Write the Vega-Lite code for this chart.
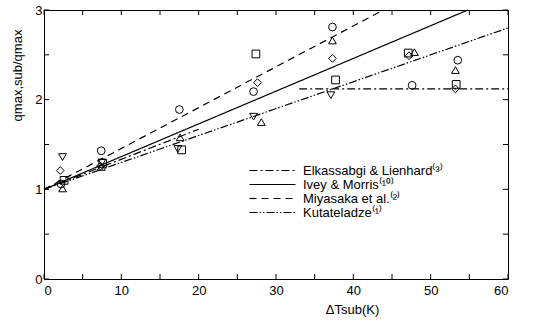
{
  "$schema": "https://vega.github.io/schema/vega-lite/v6.json",
  "width": 464,
  "height": 269,
  "autosize": {"type": "none"},
  "padding": {"left": 44, "top": 10, "right": 43, "bottom": 44},
  "background": "white",
  "config": {
    "view": {"stroke": "black", "strokeWidth": 1},
    "font": "Liberation Sans",
    "axis": {
      "grid": false,
      "domain": false,
      "ticks": true,
      "tickSize": 0,
      "tickColor": "black",
      "labelColor": "black",
      "titleColor": "black",
      "labelFontSize": 13,
      "titleFontSize": 13,
      "titleFontWeight": "normal"
    }
  },
  "datasets": {
    "lines": [
      {"name": "Elkassabgi & Lienhard⁽³⁾", "seg": "a", "dT": 0, "ratio": 1.0},
      {"name": "Elkassabgi & Lienhard⁽³⁾", "seg": "a", "dT": 20, "ratio": 1.67},
      {"name": "Elkassabgi & Lienhard⁽³⁾", "seg": "b", "dT": 33, "ratio": 2.12},
      {"name": "Elkassabgi & Lienhard⁽³⁾", "seg": "b", "dT": 60, "ratio": 2.12},
      {"name": "Ivey & Morris⁽¹⁰⁾", "seg": "a", "dT": 0, "ratio": 1.0},
      {"name": "Ivey & Morris⁽¹⁰⁾", "seg": "a", "dT": 54.8, "ratio": 3.0},
      {"name": "Miyasaka et al.⁽²⁾", "seg": "a", "dT": 0, "ratio": 1.0},
      {"name": "Miyasaka et al.⁽²⁾", "seg": "a", "dT": 43.9, "ratio": 3.0},
      {"name": "Kutateladze⁽¹⁾", "seg": "a", "dT": 0, "ratio": 1.0},
      {"name": "Kutateladze⁽¹⁾", "seg": "a", "dT": 60, "ratio": 2.8}
    ],
    "points": [
      {"set": "circle", "dT": 2.2, "ratio": 1.06},
      {"set": "circle", "dT": 7.4, "ratio": 1.43},
      {"set": "circle", "dT": 17.5, "ratio": 1.89},
      {"set": "circle", "dT": 27.1, "ratio": 2.09},
      {"set": "circle", "dT": 37.3, "ratio": 2.81},
      {"set": "circle", "dT": 47.6, "ratio": 2.16},
      {"set": "circle", "dT": 53.5, "ratio": 2.44},
      {"set": "up", "dT": 2.4, "ratio": 1.01},
      {"set": "up", "dT": 7.4, "ratio": 1.25},
      {"set": "up", "dT": 17.6, "ratio": 1.58},
      {"set": "up", "dT": 28.1, "ratio": 1.75},
      {"set": "up", "dT": 37.3, "ratio": 2.66},
      {"set": "up", "dT": 47.9, "ratio": 2.53},
      {"set": "up", "dT": 53.2, "ratio": 2.33},
      {"set": "square", "dT": 2.6, "ratio": 1.1},
      {"set": "square", "dT": 7.6, "ratio": 1.29},
      {"set": "square", "dT": 17.8, "ratio": 1.44},
      {"set": "square", "dT": 27.4, "ratio": 2.51},
      {"set": "square", "dT": 37.7, "ratio": 2.22},
      {"set": "square", "dT": 47.1, "ratio": 2.52},
      {"set": "square", "dT": 53.3, "ratio": 2.17},
      {"set": "diamond", "dT": 2.1, "ratio": 1.21},
      {"set": "diamond", "dT": 7.3, "ratio": 1.26},
      {"set": "diamond", "dT": 27.6, "ratio": 2.19},
      {"set": "diamond", "dT": 37.3, "ratio": 2.46},
      {"set": "diamond", "dT": 47.2, "ratio": 2.49},
      {"set": "diamond", "dT": 53.2, "ratio": 2.12},
      {"set": "down", "dT": 2.4, "ratio": 1.36},
      {"set": "down", "dT": 7.5, "ratio": 1.3},
      {"set": "down", "dT": 17.3, "ratio": 1.45},
      {"set": "down", "dT": 27.1, "ratio": 1.81},
      {"set": "down", "dT": 37.1, "ratio": 2.05}
    ],
    "xticks": [
      {"dT": 0}, {"dT": 5}, {"dT": 10}, {"dT": 15}, {"dT": 20}, {"dT": 25}, {"dT": 30},
      {"dT": 35}, {"dT": 40}, {"dT": 45}, {"dT": 50}, {"dT": 55}, {"dT": 60}
    ],
    "yticks": [
      {"ratio": 0}, {"ratio": 0.5}, {"ratio": 1}, {"ratio": 1.5}, {"ratio": 2}, {"ratio": 2.5}, {"ratio": 3}
    ]
  },
  "layer": [
    {
      "data": {"name": "lines"},
      "mark": {"type": "line", "color": "black", "strokeWidth": 1.2},
      "encoding": {
        "x": {
          "field": "dT", "type": "quantitative",
          "scale": {"domain": [0, 60], "nice": false},
          "axis": {
            "orient": "bottom",
            "values": [0, 10, 20, 30, 40, 50, 60],
            "format": "d",
            "labelPadding": 5,
            "title": "ΔTsub(K)",
            "titleX": 308,
            "titlePadding": 6
          }
        },
        "y": {
          "field": "ratio", "type": "quantitative",
          "scale": {"domain": [0, 3], "nice": false},
          "axis": {
            "orient": "left",
            "values": [0, 1, 2, 3],
            "format": "d",
            "labelPadding": 2,
            "title": "qmax,sub/qmax",
            "titleY": 65,
            "titlePadding": 10
          }
        },
        "detail": {"field": "seg"},
        "strokeDash": {
          "field": "name", "type": "nominal",
          "scale": {
            "domain": ["Elkassabgi & Lienhard⁽³⁾", "Ivey & Morris⁽¹⁰⁾", "Miyasaka et al.⁽²⁾", "Kutateladze⁽¹⁾"],
            "range": [[8, 3, 2, 3], [1, 0], [7, 5], [8, 2, 1.5, 2, 1.5, 2]]
          },
          "legend": {
            "title": null,
            "orient": "none",
            "legendX": 222,
            "legendY": 154,
            "symbolType": "M-4,0H4",
            "symbolSize": 132,
            "symbolStrokeWidth": 1.2,
            "symbolStrokeColor": "black",
            "symbolFillColor": "transparent",
            "labelOffset": 24,
            "labelFontSize": 13,
            "labelColor": "black",
            "rowPadding": 0,
            "padding": 0
          }
        }
      }
    },
    {
      "data": {"name": "points"},
      "mark": {"type": "point", "filled": false, "color": "black", "strokeWidth": 1, "size": 60, "opacity": 1},
      "encoding": {
        "x": {"field": "dT", "type": "quantitative"},
        "y": {"field": "ratio", "type": "quantitative"},
        "shape": {
          "field": "set", "type": "nominal",
          "scale": {
            "domain": ["circle", "up", "square", "diamond", "down"],
            "range": ["circle", "triangle-up", "square", "diamond", "triangle-down"]
          },
          "legend": null
        }
      }
    },
    {
      "data": {"name": "xticks"},
      "mark": {"type": "rule", "color": "black", "strokeWidth": 1},
      "encoding": {
        "x": {"field": "dT", "type": "quantitative"},
        "y": {"datum": 0},
        "y2": {"datum": 0.056}
      }
    },
    {
      "data": {"name": "xticks"},
      "mark": {"type": "rule", "color": "black", "strokeWidth": 1},
      "encoding": {
        "x": {"field": "dT", "type": "quantitative"},
        "y": {"datum": 3},
        "y2": {"datum": 2.944}
      }
    },
    {
      "data": {"name": "yticks"},
      "mark": {"type": "rule", "color": "black", "strokeWidth": 1},
      "encoding": {
        "y": {"field": "ratio", "type": "quantitative"},
        "x": {"datum": 0},
        "x2": {"datum": 0.65}
      }
    },
    {
      "data": {"name": "yticks"},
      "mark": {"type": "rule", "color": "black", "strokeWidth": 1},
      "encoding": {
        "y": {"field": "ratio", "type": "quantitative"},
        "x": {"datum": 60},
        "x2": {"datum": 59.35}
      }
    }
  ]
}
